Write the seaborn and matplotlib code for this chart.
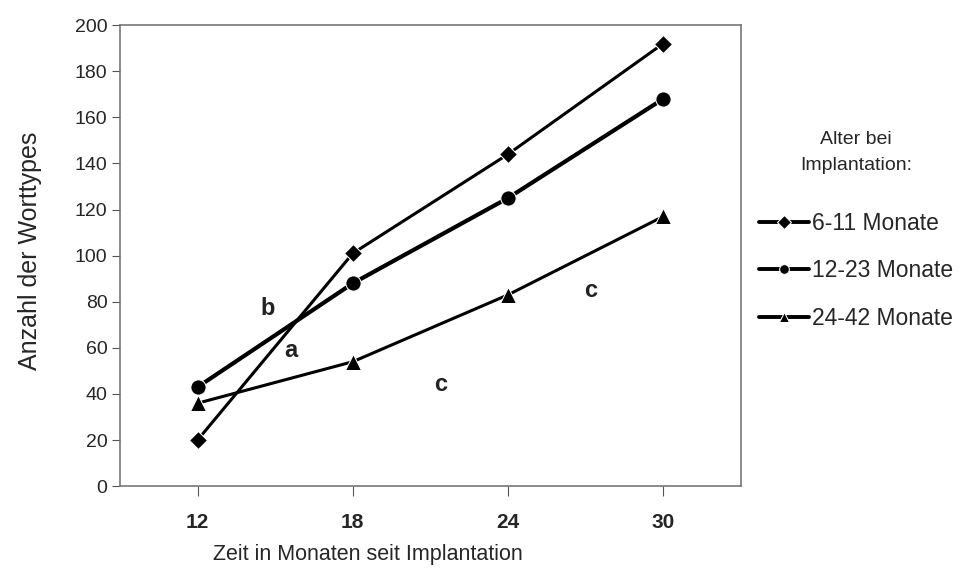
import pandas as pd
import seaborn as sns
import matplotlib.pyplot as plt

# months since implantation
months = [12, 18, 24, 30]

# word types per age group at implantation
group_6_11 = [20, 101, 144, 192]
group_12_23 = [43, 88, 125, 168]
group_24_42 = [36, 54, 83, 117]

groups = ['6-11 Monate', '12-23 Monate', '24-42 Monate']

# letters written into the plot area
note_text = ['b', 'a', 'c', 'c']
note_x = [14.7, 15.6, 21.4, 27.2]
note_y = [77, 59, 44, 85]

df = pd.DataFrame({
    'month': months * 3,
    'types': group_6_11 + group_12_23 + group_24_42,
    'group': [g for g in groups for _ in months],
})

sns.set_style('white')
plt.rcParams['font.family'] = ['Liberation Sans', 'DejaVu Sans']

fig = plt.figure(figsize=(9.62, 5.72), dpi=100)
ax = fig.add_axes([0.1247, 0.150, 0.6453, 0.806])

sns.lineplot(data=df, x='month', y='types', hue='group', style='group',
             palette=['black'] * 3, markers=['D', 'o', '^'], dashes=False,
             linewidth=2.2, markersize=9, ax=ax)

# thicker line for the middle group
ax.lines[1].set_linewidth(3)
ax.lines[1].set_markersize(11)
ax.lines[2].set_markersize(11)

for t, x, y in zip(note_text, note_x, note_y):
    ax.text(x, y, t, fontsize=17, fontweight='bold', ha='center', va='center',
            color='#222222')

ax.set_xlim(9, 33)
ax.set_ylim(0, 200)
ax.set_xticks(months)
ax.set_xticklabels([str(m) for m in months], fontweight='bold', fontsize=15)
ax.set_yticks(range(0, 201, 20))
ax.tick_params(axis='y', labelsize=14, length=6, direction='out', left=True,
               color='#555555', pad=3)
ax.tick_params(axis='x', length=7, direction='out', bottom=True, color='#555555', pad=12)
for s in ax.spines.values():
    s.set_color('#777777')
    s.set_linewidth(1.2)

ax.set_xlabel('Zeit in Monaten seit Implantation', fontsize=15.5, labelpad=4)
ax.xaxis.set_label_coords(0.40, -0.125)
ax.set_ylabel('Anzahl der Worttypes', fontsize=18)
ax.yaxis.set_label_coords(-0.125, 0.51)

handles, labels = ax.get_legend_handles_labels()
leg = ax.legend(handles, labels, title='Alter bei\nImplantation:', loc='center left',
                bbox_to_anchor=(1.0, 0.555), frameon=False, fontsize=16.5,
                title_fontsize=14, labelspacing=1.05, handlelength=2.2,
                handletextpad=0.1, borderaxespad=0.4)
leg.get_title().set_multialignment('center')
leg.get_title().set_linespacing(1.65)
leg._legend_box.sep = 28
for h in leg.legend_handles:
    h.set_markersize(7)
    h.set_linewidth(2.8)

plt.savefig('out.png', dpi=100)
